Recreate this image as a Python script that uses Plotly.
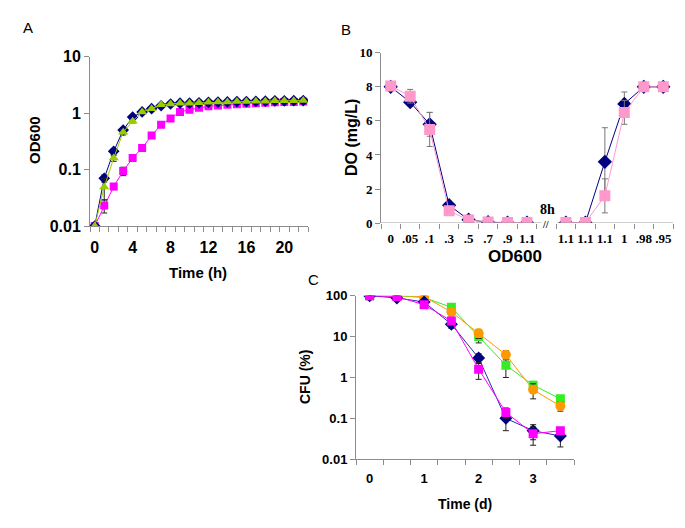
import plotly.graph_objects as go

# ---------- Panel A: growth curves (OD600 vs time, h) ----------
hours = list(range(23))
a_navy = [0.01, 0.07, 0.21, 0.5, 0.85, 1.05, 1.2, 1.35, 1.45, 1.5, 1.5, 1.52,
          1.55, 1.57, 1.58, 1.6, 1.6, 1.62, 1.63, 1.65, 1.65, 1.66, 1.67]
a_green = [0.01, 0.049, 0.16, 0.46, 0.72, 1.05, 1.2, 1.4, 1.45, 1.5, 1.5, 1.52,
           1.55, 1.57, 1.58, 1.6, 1.6, 1.62, 1.63, 1.65, 1.65, 1.66, 1.67]
a_pink = [0.01, 0.023, 0.05, 0.094, 0.16, 0.24, 0.4, 0.62, 0.8, 1.05, 1.15, 1.25,
          1.32, 1.36, 1.4, 1.43, 1.46, 1.5, 1.52, 1.55, 1.57, 1.58, 1.6]
a_navy_err = [0, 0.01, 0.02, 0.05, 0.05, 0.05, 0.05, 0.05, 0.05, 0.05, 0.05, 0.05,
              0.05, 0.05, 0.05, 0.05, 0.05, 0.05, 0.05, 0.05, 0.05, 0.05, 0.05]
a_green_err = [0, 0.02, 0.02, 0.05, 0.05, 0.05, 0.05, 0.05, 0.05, 0.05, 0.05, 0.05,
               0.05, 0.05, 0.05, 0.05, 0.05, 0.05, 0.05, 0.05, 0.05, 0.05, 0.05]
a_pink_err = [0, 0.006, 0.006, 0.016, 0.01, 0.02, 0.03, 0.04, 0.05, 0.05, 0.05, 0.05,
              0.05, 0.05, 0.05, 0.05, 0.05, 0.05, 0.05, 0.05, 0.05, 0.05, 0.05]
a_ticks = [0, 4, 8, 12, 16, 20]

# ---------- Panel B: dissolved oxygen vs OD600 ----------
b_labels = ["0", ".05", ".1", ".3", ".5", ".7", ".9", "1.1", "",
            "1.1", "1.1", "1.1", "1", ".98", ".95"]
b_navy = [8.0, 7.1, 5.8, 1.05, 0.2, 0.05, 0.02, 0.02, None,
          0.02, 0.02, 3.6, 7.0, 8.0, 8.0]
b_pink = [8.05, 7.45, 5.5, 0.72, 0.18, 0.07, 0.03, 0.03, None,
          0.03, 0.03, 1.6, 6.5, 8.0, 8.0]
b_navy_err = [0.2, 0.2, 0.7, 0.1, 0.05, 0, 0, 0, 0, 0, 0, 2.0, 0.7, 0.1, 0.1]
b_pink_err = [0.2, 0.4, 1.0, 0.1, 0.05, 0, 0, 0, 0, 0, 0, 1.0, 0.7, 0.1, 0.1]

# ---------- Panel C: survival (CFU %) vs time, d ----------
days = [0, 0.5, 1, 1.5, 2, 2.5, 3, 3.5]
c_navy = [100, 88, 70, 20, 3.0, 0.1, 0.05, 0.037]
c_pink = [100, 95, 60, 24, 1.6, 0.14, 0.042, 0.05]
c_green = [100, 100, 90, 52, 10, 2.0, 0.65, 0.3]
c_orange = [100, 100, 95, 40, 12, 3.6, 0.5, 0.2]
c_navy_err = [5, 8, 8, 4, 0.8, 0.05, 0.02, 0.017]
c_pink_err = [5, 8, 8, 4, 0.7, 0.04, 0.02, 0.01]
c_green_err = [5, 5, 8, 8, 3, 1.0, 0.15, 0.05]
c_orange_err = [5, 5, 8, 8, 3, 0.9, 0.2, 0.05]
c_ticks = [0, 1, 2, 3]

NAVY = "#000080"
W, H = 685, 528


def px_x(a, b):
    return [a / W, b / W]


def px_y(top, bottom):
    return [1 - bottom / H, 1 - top / H]


SANS = "Liberation Sans, Arial, sans-serif"
SERIF = "Liberation Serif, Times New Roman, serif"
AX = "#8c8c8c"

fig = go.Figure()


def add(xs, ys, err, color, symbol, size, xa, ya, line_color=None, ecolor="#222"):
    fig.add_trace(go.Scatter(
        x=xs, y=ys, mode="lines+markers", xaxis=xa, yaxis=ya,
        line=dict(color=line_color or color, width=1),
        marker=dict(color=color, symbol=symbol, size=size),
        error_y=dict(type="data", array=err, color=ecolor, thickness=1, width=3),
        connectgaps=False, showlegend=False, hoverinfo="skip",
    ))


# Panel A
add(hours, a_pink, a_pink_err, "#FF00FF", "square", 8, "x", "y")
add(hours, a_navy, a_navy_err, NAVY, "diamond", 9, "x", "y")
add(hours, a_green, a_green_err, "#99CC00", "triangle-up", 9, "x", "y")

# Panel B
b_x = list(range(len(b_labels)))
add(b_x, b_navy, b_navy_err, NAVY, "diamond", 11, "x2", "y2", ecolor="#777")
add(b_x, b_pink, b_pink_err, "#FF99CC", "square", 11, "x2", "y2", ecolor="#777")

# Panel C
c_x = list(range(len(days)))
add(c_x, c_green, c_green_err, "#33EE22", "square", 9, "x3", "y3")
add(c_x, c_orange, c_orange_err, "#FF9900", "circle", 10, "x3", "y3")
add(c_x, c_navy, c_navy_err, NAVY, "diamond", 10, "x3", "y3", line_color="#2B2BB0")
add(c_x, c_pink, c_pink_err, "#FF00FF", "square", 9, "x3", "y3")

sans_tick = dict(family=SANS, size=16, color="black", weight="bold")
sans_tick_c = dict(family=SANS, size=13, color="black", weight="bold")
serif_tick = dict(family=SERIF, size=13, color="black", weight="bold")

common = dict(showgrid=False, zeroline=False, linecolor=AX, linewidth=1,
              tickcolor=AX, ticklen=5)

b_minor = [i - 0.5 for i in range(0, 9)] + [i + 0.5 for i in range(8, 15)]

fig.update_layout(
    width=W, height=H, margin=dict(l=0, r=0, t=0, b=0),
    plot_bgcolor="white", paper_bgcolor="white",
    xaxis=dict(domain=px_x(82, 300), range=[-0.5, 22.5], anchor="y",
               tickvals=[hours.index(t) for t in a_ticks],
               ticktext=[str(t) for t in a_ticks], ticks="", showline=True,
               minor=dict(tickvals=[h - 0.5 for h in range(24)], ticks="outside",
                          ticklen=5, tickcolor=AX),
               tickfont=sans_tick, ticklabelstandoff=7, **common),
    yaxis=dict(domain=px_y(42, 217), type="log", range=[-2, 1], anchor="x",
               tickvals=[0.01, 0.1, 1, 10], ticktext=["0.01", "0.1", "1", "10"],
               ticks="outside", showline=True, tickfont=sans_tick, **common),
    xaxis2=dict(domain=px_x(373, 665), range=[-0.5, 14.5], anchor="y2",
                tickvals=[i for i, l in enumerate(b_labels) if l],
                ticktext=[l for l in b_labels if l], ticks="", showline=False,
                minor=dict(tickvals=b_minor, ticks="outside", ticklen=5, tickcolor=AX),
                tickfont=serif_tick, ticklabelstandoff=6, **common),
    yaxis2=dict(domain=px_y(38, 214), range=[0, 10], anchor="x2",
                tickvals=[0, 2, 4, 6, 8, 10], ticks="outside", showline=True,
                tickfont=serif_tick, **common),
    xaxis3=dict(domain=px_x(348, 566), range=[-0.5, 7.5], anchor="y3",
                tickvals=[days.index(t) for t in c_ticks],
                ticktext=[str(t) for t in c_ticks], ticks="", showline=True,
                minor=dict(tickvals=[i - 0.5 for i in range(9)], ticks="outside",
                           ticklen=5, tickcolor=AX),
                tickfont=sans_tick_c, ticklabelstandoff=7, **common),
    yaxis3=dict(domain=px_y(289, 458), type="log", range=[-2, 2], anchor="x3",
                tickvals=[0.01, 0.1, 1, 10, 100],
                ticktext=["0.01", "0.1", "1", "10", "100"],
                ticks="outside", showline=True, tickfont=sans_tick_c, **common),
)

# broken x axis in panel B
for x0, x1 in [(-0.5, 7.75), (8.55, 14.5)]:
    fig.add_shape(type="line", xref="x2", yref="y2", x0=x0, x1=x1, y0=0, y1=0,
                  line=dict(color=AX, width=1))


def note(text, x, y, font, angle=0):
    fig.add_annotation(text=text, x=x / W, y=1 - y / H, xref="paper", yref="paper",
                       showarrow=False, font=font, textangle=angle,
                       xanchor="center", yanchor="middle")


title_font = dict(family=SANS, size=15, color="black", weight="bold")
note("A", 20, 12, dict(family=SANS, size=15, color="black"))
note("B", 338, 14, dict(family=SANS, size=15, color="black"))
note("C", 305, 272, dict(family=SANS, size=15, color="black"))
note("OD600", 27, 128, title_font, -90)
note("Time (h)", 190, 265, title_font)
note("DO (mg/L)", 344, 126, dict(family=SANS, size=16, color="black", weight="bold"), -90)
note("OD600", 507, 248, dict(family=SANS, size=17, color="black", weight="bold"))
note("8h", 539, 200, dict(family=SERIF, size=14, color="black", weight="bold"))
note("//", 537, 215, dict(family=SERIF, size=10, color="black", weight="bold"))
note("CFU (%)", 297, 373, dict(family=SANS, size=14, color="black", weight="bold"), -90)
note("Time (d)", 457, 504, dict(family=SANS, size=14, color="black", weight="bold"))

fig.write_html("out.html")
